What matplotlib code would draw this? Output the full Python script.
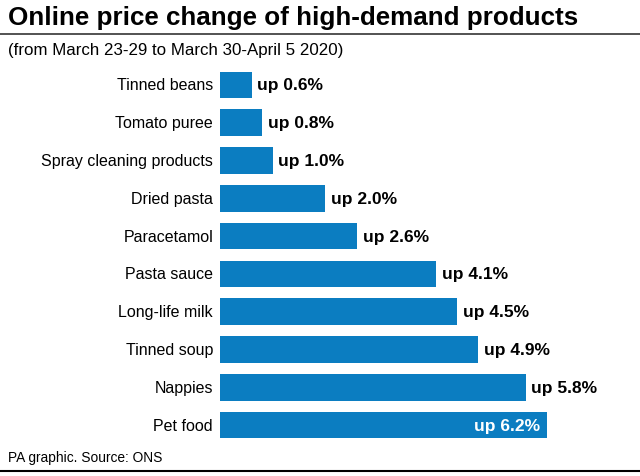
import matplotlib
matplotlib.use("Agg")
import matplotlib.pyplot as plt

# data
products = ["Tinned beans", "Tomato puree", "Spray cleaning products", "Dried pasta",
            "Paracetamol", "Pasta sauce", "Long-life milk", "Tinned soup",
            "Nappies", "Pet food"]
change = [0.6, 0.8, 1.0, 2.0, 2.6, 4.1, 4.5, 4.9, 5.8, 6.2]

blue = "#0b7dc1"
plt.rcParams["font.family"] = ["Liberation Sans", "DejaVu Sans"]

fig = plt.figure(figsize=(6.4, 4.77), dpi=100)
ax = fig.add_axes([220 / 640, 1 - 445 / 477, 420 / 640, 378 / 477])

ypos = list(range(len(products)))
ax.barh(ypos, change, height=0.7, color=blue)
ax.set_ylim(len(products) - 0.5, -0.5)
ax.set_xlim(0, 420 / 52.7)
ax.set_yticks(ypos)
ax.set_yticklabels(products, fontsize=11.5, va="center")
ax.tick_params(axis="y", length=0, pad=5)
ax.set_xticks([])
for s in ax.spines.values():
    s.set_visible(False)

for i, v in enumerate(change):
    lab = "up %.1f%%" % v
    if i == len(change) - 1:
        ax.annotate(lab, (v, i), xytext=(-5, 0), textcoords="offset points",
                    ha="right", va="center", color="white", fontsize=12.5,
                    fontweight="bold")
    else:
        ax.annotate(lab, (v, i), xytext=(4, 0), textcoords="offset points",
                    ha="left", va="center", color="black", fontsize=12.5,
                    fontweight="bold")

fig.text(8 / 640, 1 - 18 / 477, "Online price change of high-demand products",
         fontsize=18.7, fontweight="bold", va="center", ha="left")
fig.add_artist(plt.Line2D([0, 1], [1 - 35 / 477] * 2, color="#444444", lw=1.3))
fig.text(8 / 640, 1 - 50 / 477, "(from March 23-29 to March 30-April 5 2020)",
         fontsize=12.2, va="center", ha="left")
fig.text(8 / 640, 1 - 458 / 477, "PA graphic. Source: ONS",
         fontsize=9.9, va="center", ha="left")
fig.add_artist(plt.Line2D([0, 1], [1 - 472 / 477] * 2, color="black", lw=1.5))

fig.savefig("out.png", dpi=100, facecolor="white")
